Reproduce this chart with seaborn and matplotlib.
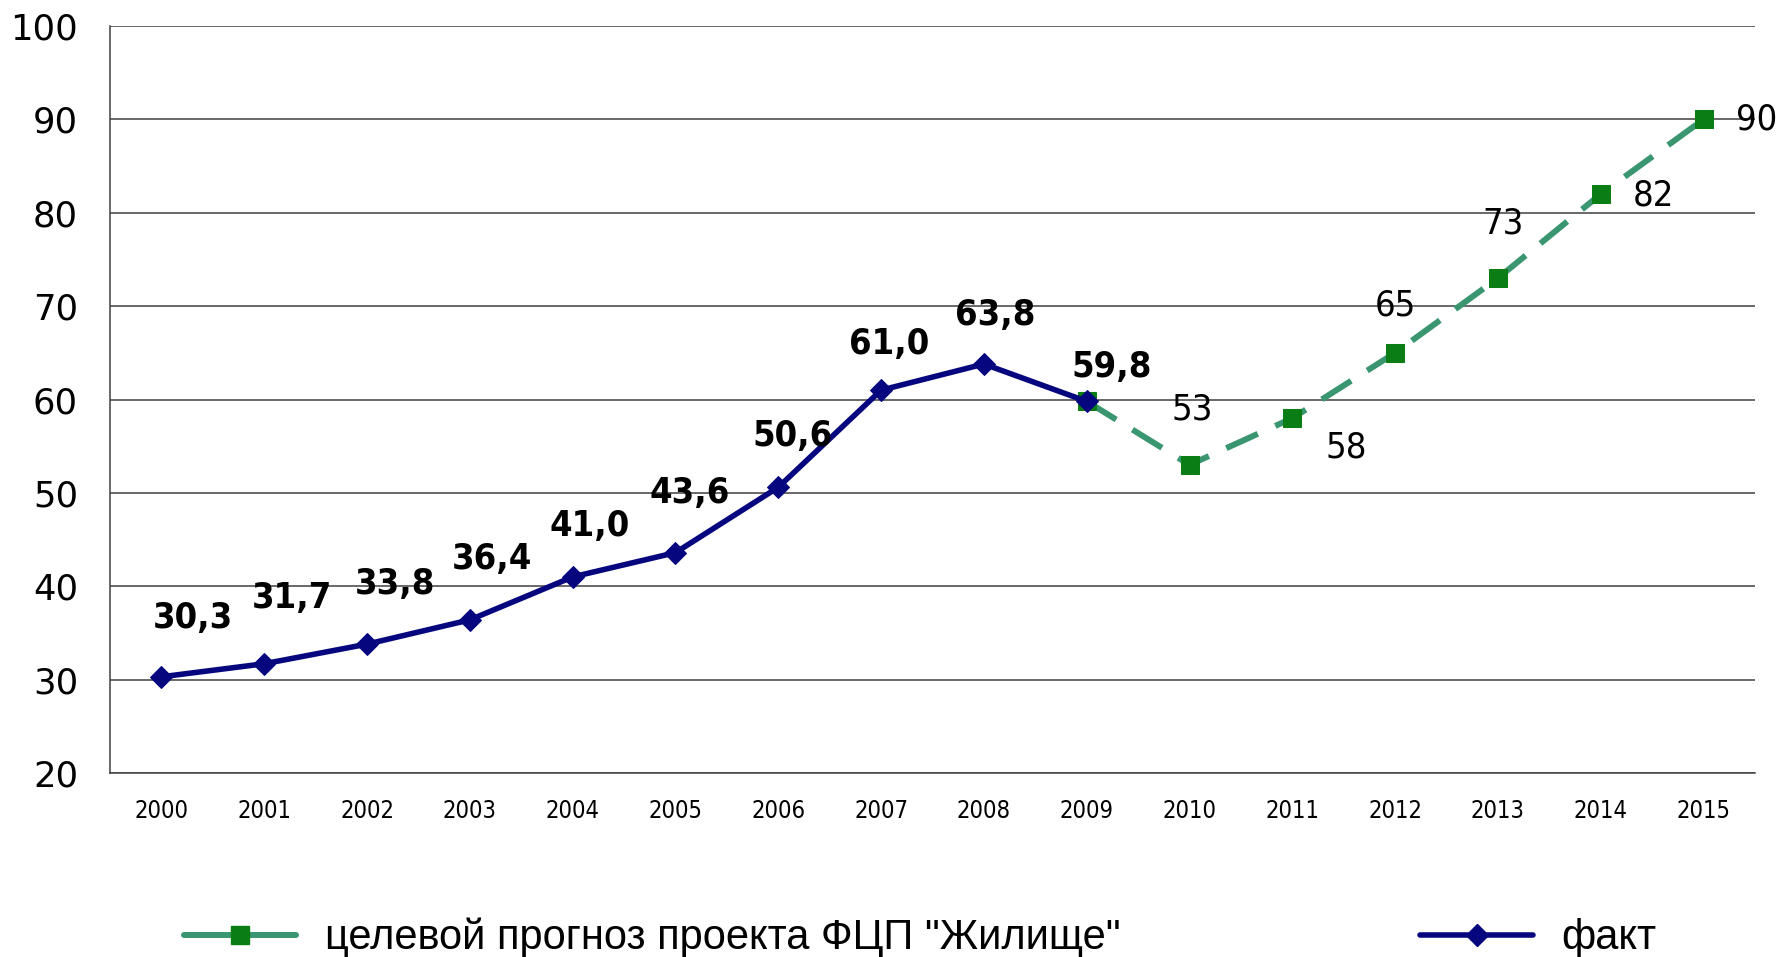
import numpy as np
import pandas as pd
import matplotlib
matplotlib.use("Agg")
import matplotlib.pyplot as plt
import seaborn as sns

# ---- data ----
years = [2000, 2001, 2002, 2003, 2004, 2005, 2006, 2007, 2008, 2009,
         2010, 2011, 2012, 2013, 2014, 2015]
fact_years = [2000, 2001, 2002, 2003, 2004, 2005, 2006, 2007, 2008, 2009]
fact_values = [30.3, 31.7, 33.8, 36.4, 41.0, 43.6, 50.6, 61.0, 63.8, 59.8]
fact_labels = ["30,3", "31,7", "33,8", "36,4", "41,0", "43,6", "50,6", "61,0", "63,8", "59,8"]
plan_years = [2009, 2010, 2011, 2012, 2013, 2014, 2015]
plan_values = [59.8, 53, 58, 65, 73, 82, 90]
plan_labels = ["", "53", "58", "65", "73", "82", "90"]
y_ticks = [20, 30, 40, 50, 60, 70, 80, 90, 100]
legend_plan = 'целевой прогноз проекта ФЦП "Жилище"'
legend_fact = "факт"

# ---- label offsets (style, in points) ----
fact_off = [(23, 42), (20, 47), (20, 43), (16, 44), (12, 37), (10, 43), (10, 37), (6, 33), (8, 35), (18, 25)]
plan_off = [(0, 0), (2, 40), (39, -21), (0, 34), (4, 39), (38, -1), (38, 0)]

sns.set_style("white")
plt.rcParams["font.family"] = ["DejaVu Sans"]
plt.rcParams["text.color"] = "black"

navy = "#06067e"
green_line = "#3a9670"
green_mark = "#0a7d14"
grid_c = "#404040"

fig = plt.figure(figsize=(17.83, 9.57), dpi=100)
ax = fig.add_axes([110 / 1783, 1 - 773 / 957, (1755 - 110) / 1783, (773 - 26) / 957])

df_plan = pd.DataFrame({"year": plan_years, "value": plan_values})
df_fact = pd.DataFrame({"year": fact_years, "value": fact_values})

sns.lineplot(data=df_plan, x="year", y="value", ax=ax, color=green_line, lw=4.3,
             linestyle=(0, (5.8, 3.2)), marker="s", markersize=12.5,
             markerfacecolor=green_mark, markeredgecolor=green_mark,
             label=legend_plan, legend=False, zorder=3)
sns.lineplot(data=df_fact, x="year", y="value", ax=ax, color=navy, lw=4.0,
             marker="D", markersize=10.7, markerfacecolor=navy, markeredgecolor=navy,
             label=legend_fact, legend=False, zorder=4)

for x, y, t, (dx, dy) in zip(fact_years, fact_values, fact_labels, fact_off):
    ax.annotate(t, (x, y), xytext=(dx, dy), textcoords="offset points",
                ha="center", va="center", fontsize=26, fontweight="bold",
                fontstretch="condensed", color="black", zorder=5)
for x, y, t, (dx, dy) in zip(plan_years, plan_values, plan_labels, plan_off):
    if t:
        ax.annotate(t, (x, y), xytext=(dx, dy), textcoords="offset points",
                    ha="center", va="center", fontsize=26, fontstretch="condensed",
                    color="black", zorder=5)

ax.set_xlim(years[0] - 0.5, years[-1] + 0.5)
ax.set_ylim(y_ticks[0], y_ticks[-1])
ax.set_yticks(y_ticks)
ax.set_yticklabels([str(v) for v in y_ticks])
ax.set_xticks(years)
ax.set_xticklabels([str(y) for y in years], fontstretch="condensed")
ax.set_xticks(np.arange(years[0] - 0.5, years[-1] + 1, 1.0), minor=True)
ax.tick_params(axis="x", which="major", length=0, pad=19, labelsize=17, labelcolor="black")
ax.tick_params(axis="x", which="minor", length=4, width=1.1, color=grid_c, direction="out")
ax.tick_params(axis="y", which="major", length=9, width=1.1, color=grid_c, direction="out",
               pad=14, labelsize=25.5, labelcolor="black")
ax.set_xlabel("")
ax.set_ylabel("")

ax.yaxis.grid(True, color=grid_c, lw=1.1)
ax.xaxis.grid(False)
ax.set_axisbelow(True)
for s in ["top", "right"]:
    ax.spines[s].set_visible(False)
for s in ["left", "bottom"]:
    ax.spines[s].set_color(grid_c)
    ax.spines[s].set_linewidth(1.1)

h_plan = plt.Line2D([], [], color=green_line, lw=4.3, marker="s", markersize=12.5,
                    markerfacecolor=green_mark, markeredgecolor=green_mark)
h_fact = plt.Line2D([], [], color=navy, lw=4.0, marker="D", markersize=10.7,
                    markerfacecolor=navy, markeredgecolor=navy)
fig.legend([h_plan, h_fact], [legend_plan, legend_fact], loc="center",
           bbox_to_anchor=(0.516, 0.020), ncol=2, frameon=False,
           prop={"family": "Liberation Sans", "size": 30}, labelcolor="black",
           handlelength=2.7, handletextpad=0.68, columnspacing=7.2)

fig.savefig("out.png", dpi=100)
